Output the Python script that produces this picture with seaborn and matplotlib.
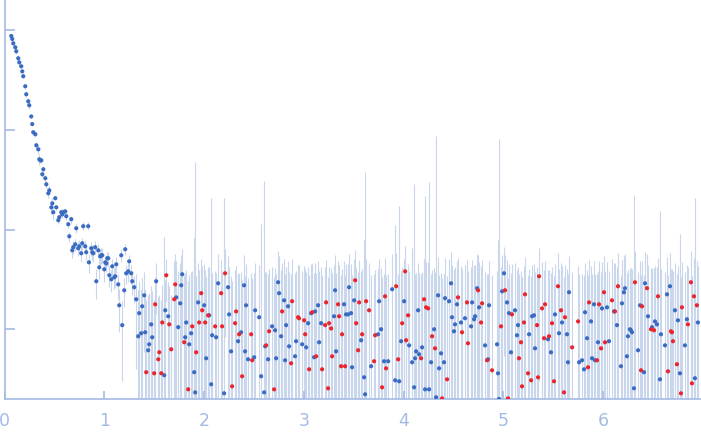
import numpy as np
import pandas as pd
import seaborn as sns
import matplotlib
matplotlib.use("Agg")
from matplotlib import pyplot as plt
from matplotlib.ticker import NullLocator, FixedLocator

# scattering curve: q (x axis) and intensity (log y axis)
# blue = positive intensities
q_blue = [0.068, 0.078, 0.088, 0.108, 0.118, 0.138, 0.148, 0.168, 0.178, 0.188,
          0.208, 0.218, 0.238, 0.248, 0.268, 0.278, 0.288, 0.309, 0.319, 0.339,
          0.349, 0.359, 0.369, 0.379, 0.389, 0.409, 0.419, 0.439, 0.449, 0.469,
          0.479, 0.489, 0.509, 0.519, 0.539, 0.549, 0.569, 0.579, 0.589, 0.609,
          0.619, 0.639, 0.649, 0.669, 0.679, 0.689, 0.709, 0.719, 0.739, 0.749,
          0.769, 0.779, 0.789, 0.809, 0.819, 0.839, 0.846, 0.869, 0.879, 0.889,
          0.909, 0.920, 0.940, 0.950, 0.960, 0.970, 0.980, 1.000, 1.010, 1.020,
          1.030, 1.040, 1.050, 1.070, 1.080, 1.100, 1.110, 1.120, 1.140, 1.150,
          1.170, 1.180, 1.200, 1.210, 1.220, 1.240, 1.250, 1.270, 1.280, 1.300,
          1.320, 1.340, 1.350, 1.370, 1.380, 1.400, 1.410, 1.440, 1.450, 1.470,
          1.480, 1.520, 1.601, 1.611, 1.641, 1.721, 1.741, 1.761, 1.771, 1.781,
          1.811, 1.821, 1.851, 1.871, 1.901, 1.911, 1.941, 2.001, 2.021, 2.051,
          2.071, 2.081, 2.121, 2.141, 2.201, 2.241, 2.251, 2.271, 2.341, 2.371,
          2.401, 2.411, 2.421, 2.441, 2.502, 2.512, 2.552, 2.572, 2.602, 2.612,
          2.642, 2.682, 2.712, 2.722, 2.742, 2.752, 2.772, 2.802, 2.812, 2.822,
          2.842, 2.852, 2.912, 2.922, 2.983, 3.023, 3.043, 3.073, 3.103, 3.113,
          3.143, 3.153, 3.173, 3.303, 3.313, 3.323, 3.403, 3.423, 3.443, 3.453,
          3.473, 3.483, 3.504, 3.574, 3.604, 3.614, 3.674, 3.744, 3.754, 3.774,
          3.804, 3.845, 3.885, 3.915, 3.955, 3.975, 4.005, 4.055, 4.085, 4.105,
          4.115, 4.125, 4.145, 4.155, 4.185, 4.215, 4.255, 4.275, 4.305, 4.325,
          4.345, 4.355, 4.375, 4.405, 4.415, 4.455, 4.475, 4.485, 4.505, 4.515,
          4.535, 4.575, 4.615, 4.676, 4.686, 4.706, 4.716, 4.736, 4.756, 4.816,
          4.846, 4.856, 4.936, 4.946, 4.956, 4.986, 5.006, 5.036, 5.056, 5.076,
          5.116, 5.136, 5.146, 5.257, 5.287, 5.307, 5.317, 5.447, 5.477, 5.517,
          5.557, 5.587, 5.637, 5.647, 5.657, 5.758, 5.788, 5.808, 5.818, 5.838,
          5.878, 5.888, 5.908, 5.918, 5.948, 5.988, 6.038, 6.058, 6.108, 6.138,
          6.178, 6.188, 6.208, 6.218, 6.238, 6.248, 6.268, 6.278, 6.288, 6.308,
          6.349, 6.369, 6.409, 6.419, 6.449, 6.489, 6.519, 6.539, 6.569, 6.579,
          6.619, 6.639, 6.669, 6.719, 6.749, 6.769, 6.819, 6.839, 6.919, 6.949]
i_blue = [871, 813, 736, 671, 612, 521, 474, 433, 385, 344,
          273, 227, 193, 176, 136, 114, 94.4, 90.2, 69.9, 63.7,
          50.6, 49.4, 49.4, 35.8, 40.2, 32.7, 28.4, 23.1, 24.7, 16.7,
          18.3, 14.9, 20.6, 16.7, 12.4, 13.3, 14.9, 14.2, 14.9, 15.2,
          13.6, 11.3, 8.55, 12.7, 6.19, 6.64, 7.11, 10.3, 6.49, 6.79,
          5.78, 7.28, 10.8, 6.79, 5.92, 10.8, 4.69, 6.49, 5.92, 5.78,
          6.64, 3.03, 6.19, 4.18, 5.39, 5.52, 5.52, 3.99, 4.69, 4.58,
          5.15, 5.15, 3.48, 3.17, 4.28, 3.32, 3.40, 4.48, 2.82, 1.74,
          5.52, 1.10, 2.46, 6.34, 3.64, 3.81, 4.80, 3.64, 3.03, 2.64,
          2.00, 0.851, 1.45, 0.912, 1.70, 2.19, 0.933, 0.616, 0.707, 1.12,
          0.832, 3.03, 0.346, 1.55, 1.35, 2.09, 1.05, 1.82, 2.76, 3.56,
          0.832, 1.17, 0.707, 0.912, 0.371, 0.233, 1.86, 1.74, 0.512, 1.38,
          0.281, 0.871, 0.832, 2.89, 0.228, 2.64, 1.41, 0.601, 0.759, 0.933,
          2.76, 0.601, 1.74, 0.500, 0.524, 1.55, 1.32, 0.338, 0.233, 0.675,
          0.500, 1.07, 0.977, 0.512, 2.96, 2.30, 0.851, 1.95, 0.489, 1.10,
          1.70, 0.675, 0.536, 0.759, 0.707, 0.659, 1.15, 1.45, 0.524, 1.51,
          1.74, 0.741, 1.15, 1.35, 2.46, 0.601, 1.78, 1.41, 1.41, 2.64,
          1.45, 0.416, 1.95, 0.776, 0.330, 0.223, 0.426, 0.891, 1.91, 1.00,
          0.478, 0.478, 2.52, 0.308, 0.301, 0.759, 1.91, 0.690, 0.467, 0.262,
          0.512, 0.601, 1.55, 0.561, 0.659, 0.250, 0.250, 0.467, 1.00, 0.208,
          2.19, 0.406, 0.574, 0.467, 2.05, 1.91, 2.89, 1.32, 0.955, 1.12,
          1.78, 1.17, 1.29, 1.07, 1.86, 1.26, 1.35, 2.58, 1.66, 0.690,
          0.500, 1.74, 0.707, 0.362, 0.200, 2.40, 3.64, 1.86, 1.45, 0.588,
          1.55, 0.871, 1.10, 0.891, 1.35, 1.38, 0.644, 0.794, 0.588, 1.41,
          0.912, 1.17, 0.891, 0.467, 2.35, 0.467, 0.489, 0.397, 1.48, 0.813,
          1.20, 0.512, 1.78, 0.489, 0.741, 1.62, 1.66, 0.759, 1.51, 1.10,
          0.426, 1.82, 2.35, 2.58, 0.536, 0.851, 1.00, 0.977, 0.933, 0.256,
          0.616, 1.74, 0.371, 2.89, 1.35, 1.05, 1.20, 1.12, 0.315, 0.891,
          0.690, 2.24, 2.70, 1.55, 1.23, 0.362, 0.690, 1.26, 0.323, 1.17]

# red = negative intensities, drawn at their absolute value
q_red = [1.420, 1.500, 1.510, 1.541, 1.551, 1.571, 1.581, 1.621, 1.651, 1.671,
         1.701, 1.711, 1.801, 1.841, 1.881, 1.921, 1.951, 1.971, 1.981, 2.011,
         2.041, 2.111, 2.171, 2.181, 2.211, 2.281, 2.311, 2.321, 2.351, 2.381,
         2.472, 2.482, 2.622, 2.652, 2.702, 2.782, 2.872, 2.882, 2.942, 2.952,
         3.003, 3.013, 3.053, 3.083, 3.123, 3.183, 3.213, 3.223, 3.243, 3.253,
         3.273, 3.283, 3.343, 3.353, 3.373, 3.383, 3.413, 3.514, 3.524, 3.544,
         3.554, 3.584, 3.624, 3.654, 3.704, 3.714, 3.784, 3.814, 3.824, 3.925,
         3.945, 3.985, 4.015, 4.025, 4.045, 4.175, 4.205, 4.225, 4.245, 4.285,
         4.315, 4.385, 4.435, 4.545, 4.585, 4.635, 4.645, 4.746, 4.776, 4.786,
         4.836, 4.886, 4.976, 5.016, 5.046, 5.086, 5.156, 5.176, 5.186, 5.206,
         5.216, 5.247, 5.277, 5.337, 5.347, 5.357, 5.387, 5.407, 5.417, 5.457,
         5.487, 5.507, 5.547, 5.577, 5.607, 5.617, 5.688, 5.748, 5.848, 5.858,
         5.938, 5.958, 5.978, 6.008, 6.018, 6.088, 6.118, 6.148, 6.318, 6.379,
         6.389, 6.439, 6.479, 6.509, 6.549, 6.649, 6.679, 6.689, 6.699, 6.739,
         6.779, 6.789, 6.849, 6.879, 6.889, 6.909, 6.939]
i_red = [0.371, 0.362, 1.78, 0.500, 0.588, 0.362, 1.17, 3.48, 1.12, 0.630,
         2.00, 2.82, 0.741, 0.250, 1.07, 0.588, 1.17, 2.30, 1.55, 1.17,
         1.38, 1.07, 2.30, 1.07, 3.64, 0.268, 1.15, 1.51, 0.891, 0.338,
         0.891, 0.489, 0.690, 0.955, 0.250, 1.51, 0.456, 1.91, 1.32, 1.29,
         1.23, 0.891, 0.397, 1.48, 0.536, 0.397, 1.10, 1.86, 0.256, 1.15,
         1.02, 0.536, 1.78, 1.35, 0.426, 0.891, 0.426, 3.10, 1.15, 0.616,
         1.86, 0.891, 1.91, 1.55, 0.478, 0.871, 0.262, 2.14, 0.406, 2.70,
         0.500, 1.15, 3.81, 0.776, 1.38, 0.512, 2.00, 1.66, 1.62, 0.851,
         0.644, 0.203, 0.315, 2.09, 0.933, 1.86, 0.724, 2.46, 1.17, 1.82,
         0.489, 0.388, 1.07, 2.46, 0.203, 1.41, 0.512, 0.741, 0.268, 1.17,
         2.24, 0.362, 0.308, 1.10, 0.330, 3.40, 1.62, 0.813, 1.78, 0.851,
         1.15, 0.301, 2.70, 1.55, 0.233, 1.32, 0.659, 1.20, 0.416, 1.86,
         0.489, 1.78, 0.644, 2.35, 0.741, 1.95, 1.51, 2.70, 2.96, 0.388,
         1.70, 2.58, 1.00, 0.977, 2.14, 0.379, 0.955, 0.933, 0.759, 0.446,
         0.228, 1.66, 1.12, 2.96, 0.287, 2.14, 1.74]

# typical error size per q band (upper band edge, error)
err_edges = [0.15, 0.25, 0.35, 0.5, 1.0, 1.3, 1.7, 2.5, 7.0]
err_band = [40, 15, 6, 2.5, 1.0, 0.8, 1.6, 2.8, 3.1]
# single points with very long error bars: q and top of the bar
spike_q = [1.601, 1.901, 1.911, 2.071, 2.201, 2.572, 2.602, 3.604, 3.614, 3.915,
           3.955, 4.085, 4.105, 4.215, 4.255, 4.325, 4.946, 4.956, 6.308, 6.569,
           6.769, 6.919]
spike_top = [8.4, 8.2, 47.5, 20.7, 20.7, 11.4, 30.6, 7.9, 37.8, 11.1,
             17.2, 6.5, 28.6, 21.7, 29.9, 86.7, 7.9, 80.9, 22.2, 15.3,
             9.0, 20.7]

df = pd.DataFrame({
    "q": q_blue + q_red,
    "I": i_blue + i_red,
    "kind": ["pos"] * len(q_blue) + ["neg"] * len(q_red),
})
df["err"] = np.array(err_band)[np.searchsorted(err_edges, df["q"].values)]
for sq, top in zip(spike_q, spike_top):
    k = (df["q"] - sq).abs().idxmin()
    df.loc[k, "err"] = top - df.loc[k, "I"]

axcol = "#a6bbe4"
fig = plt.figure(figsize=(7.01, 4.37), dpi=100)
ax = fig.add_axes([4.5 / 701, 38 / 437, 696.5 / 701, 399 / 437])
sns.set_style("white")

lo = np.maximum(df["I"] - df["err"], 1e-3)
hi = df["I"] + df["err"]
ax.vlines(df["q"], lo, hi, color="#c9d7ed", lw=0.8, zorder=1)
sns.scatterplot(data=df, x="q", y="I", hue="kind",
                palette={"pos": "#3a6bc3", "neg": "#e9262d"},
                s=9, linewidth=0, legend=False, ax=ax, zorder=3)

ax.set_yscale("log")
ax.set_ylim(0.2, 2000)
ax.set_xlim(0, 6.98)
ax.yaxis.set_major_locator(FixedLocator([1, 10, 100, 1000]))
ax.yaxis.set_minor_locator(NullLocator())
ax.set_yticklabels([])
ax.set_xticks(range(7))
ax.set_xlabel("")
ax.set_ylabel("")
for s in ["top", "right"]:
    ax.spines[s].set_visible(False)
for s in ["left", "bottom"]:
    ax.spines[s].set_color(axcol)
    ax.spines[s].set_linewidth(1.2)
ax.tick_params(axis="x", direction="in", length=6, width=1.2, color=axcol,
               labelcolor=axcol, labelsize=12.5, pad=9)
ax.tick_params(axis="y", direction="in", length=7, width=1.2, color=axcol)
ax.set_facecolor("white")

fig.savefig("out.png", dpi=100)
